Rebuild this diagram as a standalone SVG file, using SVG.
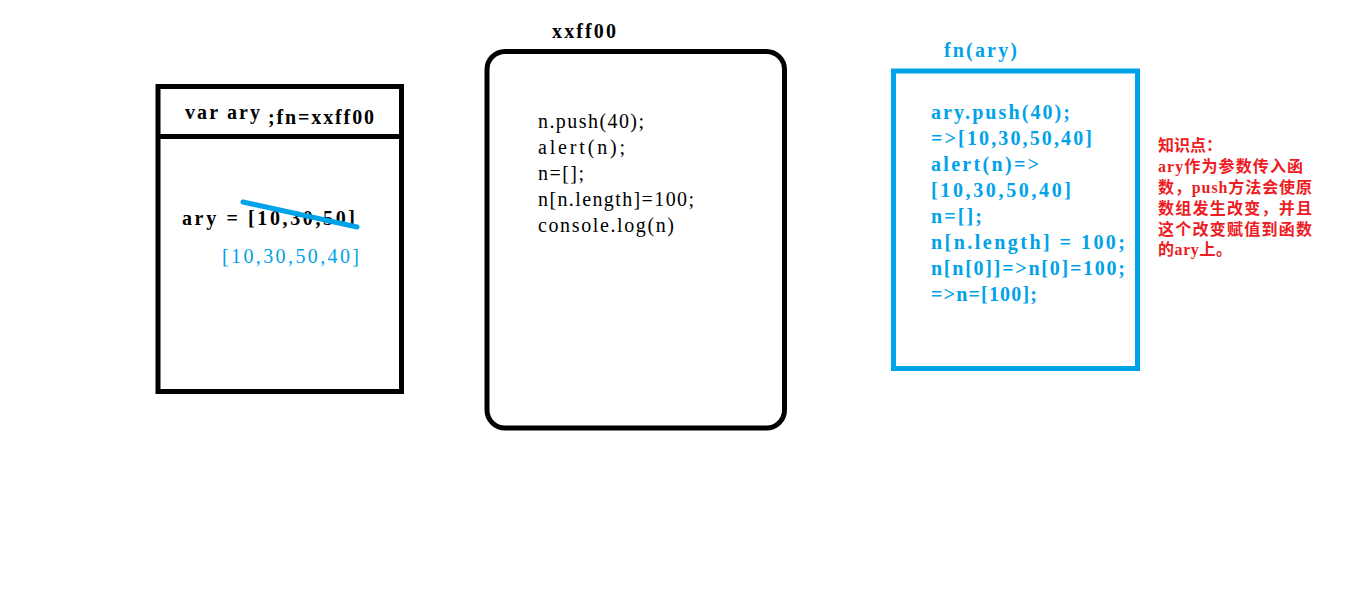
<svg xmlns="http://www.w3.org/2000/svg" width="1360" height="605" viewBox="0 0 1360 605">
<style>
.t{font-family:"Liberation Serif","Noto Sans CJK SC",serif;font-size:20px;}
.b{font-weight:bold;}
.k{fill:#000;}
.bl{fill:#00a2e8;}
.red{font-family:"Liberation Serif","Noto Sans CJK SC",serif;font-size:16px;font-weight:bold;fill:#ed1c24;}
.box{fill:none;stroke:#000;stroke-width:5;}
</style>
<rect width="1360" height="605" fill="#fff"/>
<g id="var-box">
<rect class="box" x="158" y="86.5" width="243.5" height="305"/>
<line x1="158" y1="136.5" x2="404" y2="136.5" stroke="#000" stroke-width="5"/>
<text class="t b k" x="185" y="119" textLength="75" lengthAdjust="spacing">var ary</text>
<text class="t b k" x="268" y="124" textLength="106" lengthAdjust="spacing">;fn=xxff00</text>
<text class="t b k" x="182" y="225" textLength="173" lengthAdjust="spacing">ary = [10,30,50]</text>
<line x1="243" y1="202" x2="357" y2="227" stroke="#00a2e8" stroke-width="5" stroke-linecap="round"/>
<text class="t bl" x="222" y="263" textLength="137" lengthAdjust="spacing">[10,30,50,40]</text>
</g>
<g id="heap-box">
<text class="t b k" x="552" y="38" textLength="64" lengthAdjust="spacing">xxff00</text>
<rect class="box" x="487" y="51.5" width="297.5" height="376.5" rx="18" ry="18"/>
<text class="t k" x="538" y="128" textLength="106" lengthAdjust="spacing">n.push(40);</text>
<text class="t k" x="538" y="154" textLength="87" lengthAdjust="spacing">alert(n);</text>
<text class="t k" x="538" y="180" textLength="46" lengthAdjust="spacing">n=[];</text>
<text class="t k" x="538" y="206" textLength="156" lengthAdjust="spacing">n[n.length]=100;</text>
<text class="t k" x="538" y="232" textLength="136" lengthAdjust="spacing">console.log(n)</text>
</g>
<g id="fn-box">
<text class="t b bl" x="944" y="57" textLength="73" lengthAdjust="spacing">fn(ary)</text>
<rect x="893.5" y="71" width="244" height="297.5" fill="none" stroke="#00a2e8" stroke-width="5"/>
<text class="t b bl" x="931" y="119" textLength="139" lengthAdjust="spacing">ary.push(40);</text>
<text class="t b bl" x="931" y="145" textLength="161" lengthAdjust="spacing">=&gt;[10,30,50,40]</text>
<text class="t b bl" x="931" y="171" textLength="108" lengthAdjust="spacing">alert(n)=&gt;</text>
<text class="t b bl" x="931" y="197" textLength="140" lengthAdjust="spacing">[10,30,50,40]</text>
<text class="t b bl" x="931" y="223" textLength="51" lengthAdjust="spacing">n=[];</text>
<text class="t b bl" x="931" y="249" textLength="194" lengthAdjust="spacing">n[n.length] = 100;</text>
<text class="t b bl" x="931" y="275" textLength="194" lengthAdjust="spacing">n[n[0]]=&gt;n[0]=100;</text>
<text class="t b bl" x="931" y="301" textLength="106" lengthAdjust="spacing">=&gt;n=[100];</text>
</g>
<g id="note">
<text class="red" x="1158" y="151">知识点：</text>
<text class="red" x="1158" y="172" textLength="145" lengthAdjust="spacing">ary作为参数传入函</text>
<text class="red" x="1158" y="193" textLength="154" lengthAdjust="spacing">数，push方法会使原</text>
<text class="red" x="1158" y="214" textLength="154" lengthAdjust="spacing">数组发生改变，并且</text>
<text class="red" x="1158" y="235" textLength="154" lengthAdjust="spacing">这个改变赋值到函数</text>
<text class="red" x="1158" y="255" textLength="74" lengthAdjust="spacing">的ary上。</text>
</g>
<g id="connectors"></g>
</svg>
